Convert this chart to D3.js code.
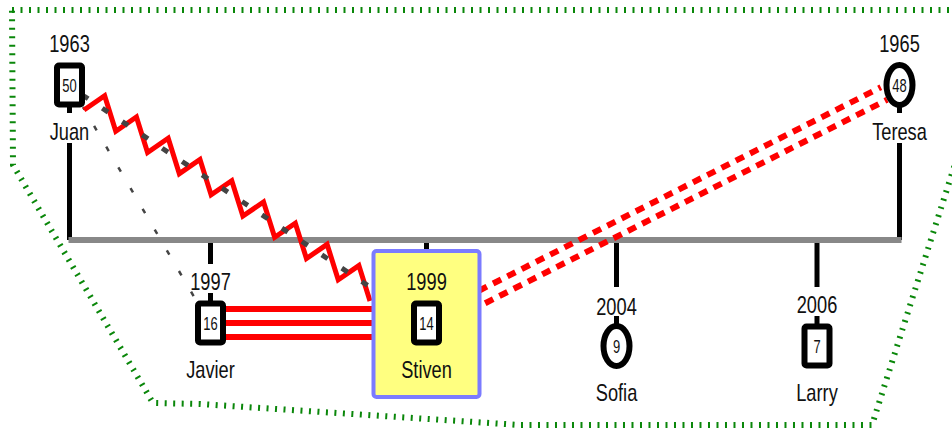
<!DOCTYPE html>
<html>
<head>
<meta charset="utf-8">
<script src="https://cdn.jsdelivr.net/npm/d3@7"></script>
<style>
  body { margin: 0; background: #fff; }
  svg text { font-family: 'Liberation Sans', Arial, sans-serif; fill: #111; }
</style>
</head>
<body>
<svg id="chart" width="952" height="431"></svg>
<script>
// family members
var people = ['Juan', 'Teresa', 'Javier', 'Stiven', 'Sofia', 'Larry'];
var births = [1963, 1965, 1997, 1999, 2004, 2006];
var ages = [50, 48, 16, 14, 9, 7];
var sexes = ['M', 'F', 'M', 'M', 'F', 'M'];
var parentNames = ['Juan', 'Teresa'];
var childNames = ['Javier', 'Stiven', 'Sofia', 'Larry'];
var focusName = 'Stiven';

// emotional relations
var relFrom = ['Juan', 'Juan', 'Javier', 'Stiven'];
var relTo = ['Javier', 'Stiven', 'Stiven', 'Teresa'];
var relType = ['distant', 'distant-hostile', 'fused', 'focused'];

var nodes = people.map(function(name, i) {
  return { name: name, year: births[i], age: ages[i], sex: sexes[i] };
});

var svg = d3.select('#chart');

// layout slots
var x = d3.scaleOrdinal()
  .domain(people)
  .range([69.5, 899.5, 210.5, 426.5, 616.5, 817]);
var y = d3.scaleOrdinal()
  .domain(people)
  .range([85, 85, 323, 323, 346, 346]);
var marriageY = 240;

var red = '#ff0000';
var line = d3.line();

// household boundary
var household = [[12, 10], [1004, 10], [872, 425], [520, 425], [200, 404], [153, 403], [13, 165]];
svg.append('path')
  .attr('d', line(household) + 'Z')
  .attr('fill', 'none')
  .attr('stroke', '#0a870a')
  .attr('stroke-width', 6)
  .attr('stroke-dasharray', '2,6.5');

// lines of descent
var lines = svg.append('g')
  .attr('stroke', '#000')
  .attr('stroke-width', 5);

parentNames.forEach(function(name) {
  lines.append('line')
    .attr('x1', x(name)).attr('x2', x(name))
    .attr('y1', y(name) + 22).attr('y2', y(name) + 28);
  lines.append('line')
    .attr('x1', x(name)).attr('x2', x(name))
    .attr('y1', y(name) + 58).attr('y2', marriageY);
});

childNames.forEach(function(name) {
  lines.append('line')
    .attr('x1', x(name)).attr('x2', x(name))
    .attr('y1', marriageY).attr('y2', y(name) - 59);
  lines.append('line')
    .attr('x1', x(name)).attr('x2', x(name))
    .attr('y1', y(name) - 30).attr('y2', y(name) - 22);
});

svg.append('line')
  .attr('x1', x(parentNames[0]) - 1)
  .attr('x2', x(parentNames[1]) + 2)
  .attr('y1', marriageY)
  .attr('y2', marriageY)
  .attr('stroke', '#888')
  .attr('stroke-width', 6);

// relations
var rel = svg.append('g').attr('fill', 'none');

function drawRelation(from, to, type) {
  if(type == 'distant') {
    rel.append('path')
      .attr('d', line([[x(from) + 13.5, y(from) + 22], [x(to) - 14, y(to) - 22]]))
      .attr('stroke', '#444')
      .attr('stroke-width', 2.5)
      .attr('stroke-dasharray', '5,19')
      .attr('stroke-dashoffset', 2);
  }
  if(type == 'distant-hostile') {
    var p0 = [x(from) + 14.5, y(from) + 11];
    var p1 = [x(to) - 56.5, y(to) - 36];
    var n = 9;
    var at = function(t, dy) {
      return [p0[0] + (p1[0] - p0[0]) * t, p0[1] + (p1[1] - p0[1]) * t + dy];
    };
    var pts = [];
    for(var k = 0; k <= n; k++) {
      pts.push(at(k / n, 14));
      if(k < n) pts.push(at((k + 0.65) / n, -14));
    }
    rel.append('path')
      .attr('d', line(pts))
      .attr('stroke', red)
      .attr('stroke-width', 5)
      .attr('stroke-linejoin', 'miter');
    rel.append('path')
      .attr('d', line([p0, p1]))
      .attr('stroke', '#444')
      .attr('stroke-width', 5)
      .attr('stroke-dasharray', '7,17')
      .attr('stroke-dashoffset', 2);
  }
  if(type == 'fused') {
    [-14, 0, 14].forEach(function(off) {
      rel.append('line')
        .attr('x1', x(from) + 15).attr('x2', x(to) - 53)
        .attr('y1', y(from) + off).attr('y2', y(to) + off)
        .attr('stroke', red)
        .attr('stroke-width', 6);
    });
  }
  if(type == 'focused') {
    var a = [x(from) + 55.5, y(from) - 26];
    var b = [x(to) - 15.5, y(to) + 8.5];
    var len = Math.hypot(b[0] - a[0], b[1] - a[1]);
    var nx = -(b[1] - a[1]) / len, ny = (b[0] - a[0]) / len;
    [-7, 7].forEach(function(off) {
      rel.append('path')
        .attr('d', line([[a[0] + nx * off, a[1] + ny * off], [b[0] + nx * off, b[1] + ny * off]]))
        .attr('stroke', red)
        .attr('stroke-width', 6)
        .attr('stroke-dasharray', '9,7');
    });
  }
}

relFrom.forEach(function(from, i) {
  drawRelation(from, relTo[i], relType[i]);
});

// focus person highlight
svg.append('rect')
  .attr('x', x(focusName) - 53)
  .attr('y', y(focusName) - 72)
  .attr('width', 106)
  .attr('height', 146)
  .attr('rx', 3)
  .attr('fill', '#ffff80')
  .attr('stroke', '#7b7bff')
  .attr('stroke-width', 4);

// people
var node = svg.selectAll('g.person')
    .data(nodes)
  .enter().append('g')
    .attr('class', 'person')
    .attr('transform', function(d) { return 'translate(' + x(d.name) + ',' + y(d.name) + ')'; });

node.filter(function(d) { return d.sex == 'M'; })
  .append('rect')
    .attr('x', -12.5)
    .attr('y', -19.5)
    .attr('width', 25)
    .attr('height', 39)
    .attr('rx', 2)
    .attr('fill', '#fff')
    .attr('stroke', '#000')
    .attr('stroke-width', 6);

node.filter(function(d) { return d.sex == 'F'; })
  .append('ellipse')
    .attr('rx', 13)
    .attr('ry', 20)
    .attr('fill', '#fff')
    .attr('stroke', '#000')
    .attr('stroke-width', 6);

// narrow lettering: squeeze the regular face sideways
node.append('text')
  .attr('text-anchor', 'middle')
  .attr('transform', 'translate(0,6.5) scale(0.72,1)')
  .attr('font-size', '18px')
  .text(function(d) { return d.age; });

node.append('text')
  .attr('text-anchor', 'middle')
  .attr('transform', function(d) {
    var dy = d.sex == 'F' && childNames.indexOf(d.name) >= 0 ? -31 : -33;
    return 'translate(0,' + dy + ') scale(0.76,1)';
  })
  .attr('font-size', '24px')
  .text(function(d) { return d.year; });

node.append('text')
  .attr('text-anchor', 'middle')
  .attr('transform', 'translate(0,55) scale(0.76,1)')
  .attr('font-size', '24px')
  .text(function(d) { return d.name; });
</script>
</body>
</html>
